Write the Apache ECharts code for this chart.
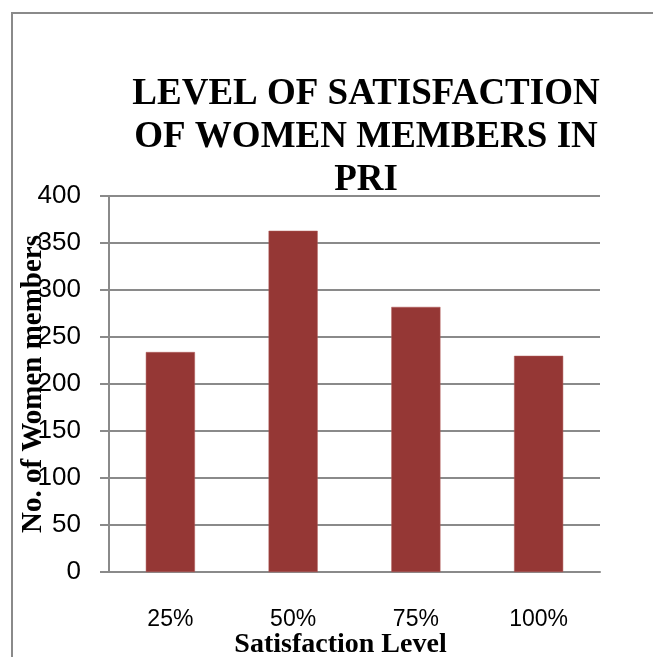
<!DOCTYPE html>
<html>
<head>
<meta charset="utf-8">
<script src="https://cdn.jsdelivr.net/npm/echarts@6/dist/echarts.min.js"></script>
<style>
html,body{margin:0;padding:0;background:#fff;}
#chart{width:653px;height:657px;}
</style>
</head>
<body>
<div id="chart"></div>
<script>
const categories = ['25%', '50%', '75%', '100%'];
const members = [234, 363, 282, 230];
const yTicks = [0, 50, 100, 150, 200, 250, 300, 350, 400];
const titleText = 'LEVEL OF SATISFACTION\nOF WOMEN MEMBERS IN\nPRI';
const xName = 'Satisfaction Level';
const yName = 'No. of Women members';

const chart = echarts.init(document.getElementById('chart'), null, {renderer: 'canvas'});
chart.setOption({
  backgroundColor: '#ffffff',
  animation: false,
  graphic: [{
    type: 'rect',
    shape: {x: 12, y: 13, width: 800, height: 800},
    style: {fill: 'none', stroke: '#8a8a8a', lineWidth: 2},
    silent: true
  }],
  title: {
    text: titleText,
    left: 361,
    top: 68,
    textAlign: 'center',
    textStyle: {
      fontFamily: 'Liberation Serif',
      fontWeight: 'bold',
      fontSize: 37,
      lineHeight: 43,
      color: '#000'
    }
  },
  grid: {left: 109, right: 53, top: 196, bottom: 85, containLabel: false, outerBoundsMode: 'none'},
  xAxis: {
    type: 'category',
    data: categories,
    name: xName,
    nameLocation: 'middle',
    nameGap: 59,
    nameMoveOverlap: false,
    nameTextStyle: {
      fontFamily: 'Liberation Serif', fontWeight: 'bold', fontSize: 28, color: '#000',
      padding: [0, 28, 0, 0]
    },
    axisLine: {lineStyle: {color: '#8a8a8a', width: 2}},
    axisTick: {show: false},
    axisLabel: {
      margin: 36, fontFamily: 'Liberation Sans', fontSize: 23, color: '#000'
    }
  },
  yAxis: {
    type: 'value',
    min: 0, max: 400, interval: 50,
    name: yName,
    nameLocation: 'middle',
    nameGap: 61,
    nameMoveOverlap: false,
    nameTextStyle: {
      fontFamily: 'Liberation Serif', fontWeight: 'bold', fontSize: 29, color: '#000'
    },
    axisLine: {show: true, lineStyle: {color: '#8a8a8a', width: 2}},
    axisTick: {show: true, length: 9, lineStyle: {color: '#8a8a8a', width: 2}},
    axisLabel: {
      margin: 28, fontFamily: 'Liberation Sans', fontSize: 26, color: '#000',
      formatter: function (v) { return yTicks.indexOf(v) >= 0 ? String(v) : ''; }
    },
    splitLine: {lineStyle: {color: '#8a8a8a', width: 2}}
  },
  series: [{
    type: 'bar',
    data: members,
    barWidth: '40%',
    itemStyle: {color: '#953735', borderColor: '#b05a58', borderWidth: 0.5}
  }]
});
</script>
</body>
</html>
